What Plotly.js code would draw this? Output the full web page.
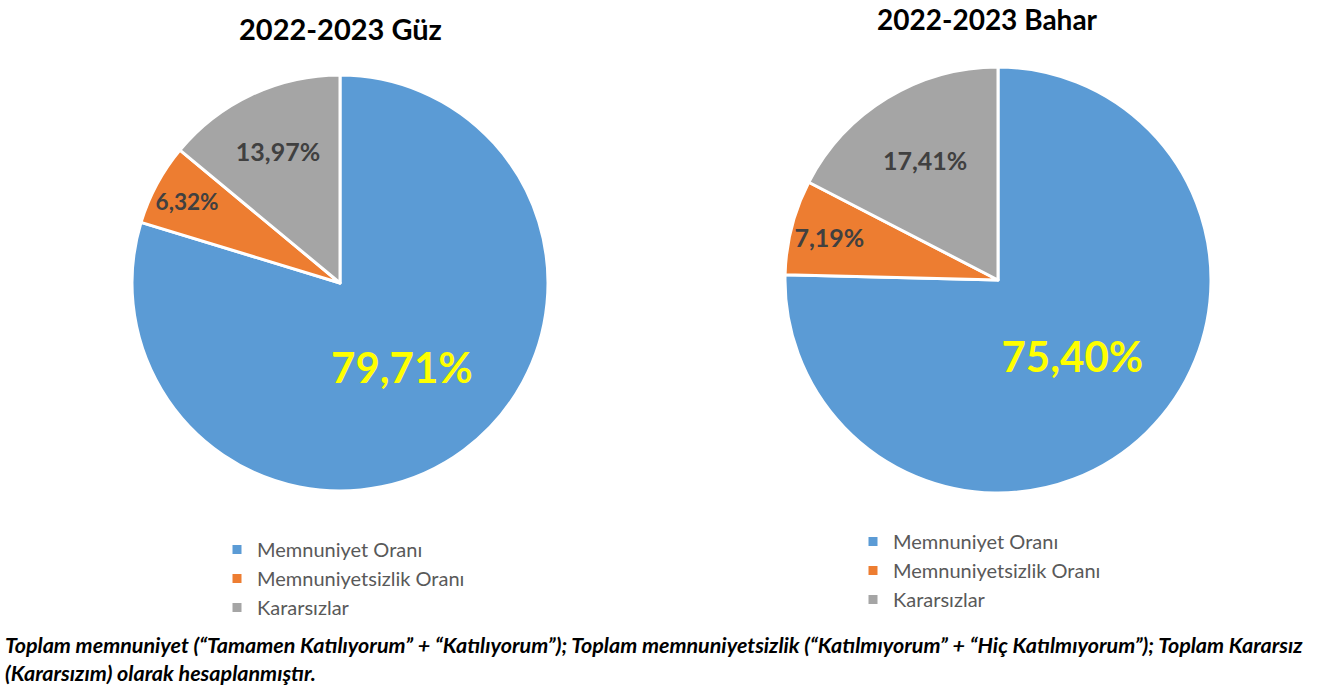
<!DOCTYPE html>
<html>
<head>
<meta charset="utf-8">
<script src="https://cdn.plot.ly/plotly-3.0.1.min.js"></script>
<style>html,body{margin:0;padding:0;background:#fff;}#chart{width:1317px;height:686px;}</style>
</head>
<body>
<div id="chart"></div>
<script>
const categories = ["Memnuniyet Oranı", "Memnuniyetsizlik Oranı", "Kararsızlar"];
const guzValues = [79.71, 6.32, 13.97];
const baharValues = [75.40, 7.19, 17.41];
const chartTitles = ["2022-2023 Güz", "2022-2023 Bahar"];
const footnote = "Toplam memnuniyet (“Tamamen Katılıyorum” + “Katılıyorum”); Toplam memnuniyetsizlik (“Katılmıyorum” + “Hiç Katılmıyorum”); Toplam Kararsız<br>(Kararsızım) olarak hesaplanmıştır.";

const colors = ["#5B9BD5", "#ED7D31", "#A5A5A5"];
const FONT = "Lato, 'Open Sans', sans-serif";
const W = 1317, H = 686;

function pieTrace(values, dom, legendId, group) {
  return {
    type: "pie",
    labels: categories,
    values: values,
    sort: false,
    direction: "clockwise",
    rotation: 0,
    domain: dom,
    marker: { colors: colors, line: { color: "#ffffff", width: 3 } },
    texttemplate: "%{value:.2f}%",
    textposition: "inside",
    insidetextorientation: "horizontal",
    textfont: {
      family: FONT,
      size: [42, 25, 25],
      color: ["#FFFF00", "#404040", "#404040"],
      weight: "bold"
    },
    hoverinfo: "label+percent",
    legend: legendId,
    legendgroup: group,
    showlegend: true
  };
}

const data = [
  pieTrace(guzValues, { x: [132 / W, 548 / W], y: [1 - 491 / H, 1 - 75 / H] }, "legend", "guz"),
  pieTrace(baharValues, { x: [785 / W, 1211 / W], y: [1 - 493 / H, 1 - 67 / H] }, "legend2", "bahar")
];

const legendFont = { family: FONT, size: 20, color: "#595959" };
const layout = {
  width: W, height: H,
  margin: { l: 0, r: 0, t: 0, b: 0 },
  paper_bgcolor: "#ffffff",
  separators: ",.",
  showlegend: true,
  legend: { x: 217 / W, y: 1 - 530 / H, xanchor: "left", yanchor: "top", font: legendFont, bgcolor: "rgba(0,0,0,0)", traceorder: "normal", itemwidth: 30 },
  legend2: { x: 853 / W, y: 1 - 522 / H, xanchor: "left", yanchor: "top", font: legendFont, bgcolor: "rgba(0,0,0,0)", traceorder: "normal", itemwidth: 30 },
  annotations: [
    { text: chartTitles[0], x: 340 / W, y: 1 - 28 / H, xref: "paper", yref: "paper", xanchor: "center", yanchor: "middle", showarrow: false,
      font: { family: FONT, size: 29, color: "#000000", weight: "bold" } },
    { text: chartTitles[1], x: 987 / W, y: 1 - 19 / H, xref: "paper", yref: "paper", xanchor: "center", yanchor: "middle", showarrow: false,
      font: { family: FONT, size: 28, color: "#000000", weight: "bold" } },
    { text: footnote, x: 3 / W, y: 1 - 630 / H, xref: "paper", yref: "paper", xanchor: "left", yanchor: "top", align: "left", showarrow: false,
      font: { family: FONT, size: 21.5, color: "#000000", weight: "bold", style: "italic" } }
  ]
};

Plotly.newPlot("chart", data, layout, { displayModeBar: false, staticPlot: true });
</script>
</body>
</html>
